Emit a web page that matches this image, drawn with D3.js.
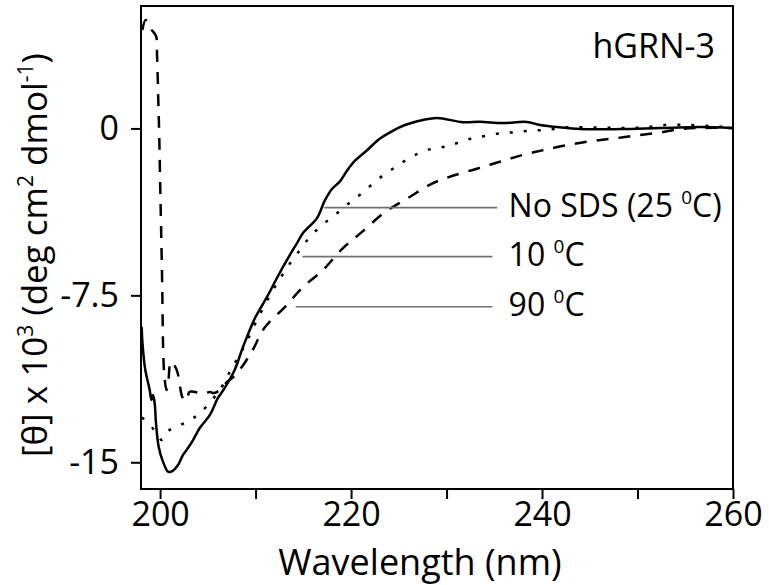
<!DOCTYPE html>
<html lang="en">
<head>
<meta charset="UTF-8">
<title>hGRN-3 CD spectra</title>
<script src="https://d3js.org/d3.v7.min.js"></script>
<style>
  body { margin: 0; background: #fff; }
  svg text { font-family: "Open Sans", sans-serif; fill: #000; }
  .frame { fill: none; stroke: #000; stroke-width: 2px; }
  .curve { fill: none; stroke: #000; stroke-width: 2.5px; }
  .leader { stroke: #707070; stroke-width: 1.6px; }
  .tick line { stroke: #000; stroke-width: 2px; }
</style>
</head>
<body>
<svg id="chart" width="769" height="585"></svg>
<script>
// No SDS (25 C), solid line
const wlNoSDS = [198.07, 198.17, 198.45, 198.91, 199.1, 199.26, 199.43, 199.57, 199.85, 200.3, 200.83, 201.17,
  201.88, 202.4, 202.92, 203.45, 204.15, 205.2, 206.06, 206.77, 207.81, 208.68, 209.94, 211.2, 212.24, 213.29,
  214.34, 214.97, 216.43, 217.27, 218.0, 218.84, 219.57, 220.41, 221.67, 223.03, 224.08, 225.44, 227.54, 229.0,
  231.72, 233.5, 235.9, 238.4, 239.8, 241.6, 243.98, 248.2, 252.4, 256.5, 259.9];
const thetaNoSDS = [-8.92, -9.73, -10.85, -11.75, -12.2, -11.98, -12.34, -13.24, -14.3, -14.97, -15.42, -15.42,
  -15.12, -14.67, -14.36, -14.0, -13.46, -12.88, -12.11, -11.66, -10.85, -9.82, -8.52, -7.57, -6.72, -5.91,
  -5.15, -4.7, -4.03, -3.22, -2.72, -2.38, -1.9, -1.45, -0.98, -0.45, -0.18, 0.12, 0.38, 0.47,
  0.28, 0.3, 0.24, 0.29, 0.15, 0.06, -0.03, -0.03, 0.02, 0.06, 0.02];

// 10 C, dotted line
const wl10 = [198.1, 199.1, 200.2, 200.88, 202.16, 203.29, 204.34, 205.44, 206.22, 207.53, 208.89, 210.25,
  211.83, 212.66, 213.61, 214.65, 215.7, 217.09, 218.5, 219.89, 221.28, 222.69, 224.08, 225.47, 226.88,
  228.32, 229.84, 231.23, 232.63, 234.03, 235.53, 236.93, 238.4, 239.79, 241.26, 242.75, 246.91, 249.92,
  251.31, 252.78, 255.68, 258.43, 259.9];
const theta10 = [-12.99, -13.4, -14.0, -13.59, -13.32, -13.07, -12.72, -12.2, -11.78, -10.76, -9.73, -8.52,
  -7.26, -6.68, -6.06, -5.46, -4.87, -4.3, -3.82, -3.32, -2.87, -2.32, -1.9, -1.5, -1.16,
  -0.93, -0.82, -0.64, -0.45, -0.34, -0.22, -0.18, -0.12, -0.08, -0.03, 0.05, 0.03, 0.03,
  0.08, 0.15, 0.15, 0.08, 0.06];

// 90 C, dashed line
const wl90 = [198.14, 198.49, 198.94, 199.57, 199.68, 199.81, 199.92, 200.02, 200.13, 200.23, 200.28, 200.34,
  200.44, 200.67, 200.83, 201.14, 201.74, 202.26, 202.5, 202.82, 203.06, 203.66, 204.36, 205.23, 205.65,
  206.38, 207.01, 207.9, 209.57, 210.92, 213.08, 214.86, 217.06, 219.05, 221.15, 223.55, 225.96, 228.37,
  230.57, 233.09, 235.49, 237.9, 240.21, 242.62, 245.13, 247.54, 249.84, 252.25, 254.45, 256.55, 259.9];
const theta90 = [4.42, 4.87, 4.51, 4.15, 3.3, 1.28, -0.52, -2.77, -5.01, -7.26, -9.06, -10.18,
  -11.08, -11.75, -11.53, -10.49, -10.85, -11.98, -12.2, -12.2, -11.84, -11.84, -11.93, -11.84, -11.89,
  -11.71, -11.39, -11.08, -10.05, -8.97, -8.02, -7.17, -6.36, -5.42, -4.65, -3.76, -3.13, -2.5,
  -2.14, -1.82, -1.51, -1.2, -0.97, -0.75, -0.57, -0.45, -0.32, -0.19, -0.03, 0.02, 0.02];

const xTicks = [200, 210, 220, 230, 240, 250, 260];
const yTicks = [0, -7.5, -15];

const legendText = ["No SDS (25 ", "10 ", "90 "];
const legendTail = ["C)", "C", "C"];
const legendTheta = [-3.56, -5.76, -8.01];
const legendFrom = [217.2, 214.9, 214.2];
const legendTo = [235.3, 234.8, 234.8];
const legendTextAt = 236.5;

const margin = {top: 6, right: 36, bottom: 96, left: 141},
      width = 769 - margin.left - margin.right,
      height = 585 - margin.top - margin.bottom;

const svg = d3.select("#chart");
const g = svg.append("g").attr("transform", `translate(${margin.left},${margin.top})`);

const x = d3.scaleLinear().domain([198, 260]).range([0, width]);
const y = d3.scaleLinear().domain([-16.2, 5.5]).range([height, 0]);

const series = [
  {wl: wlNoSDS, th: thetaNoSDS, dash: null},
  {wl: wl10, th: theta10, dash: "3,11"},
  {wl: wl90, th: theta90, dash: "12,10"}
];

const line = d3.line().x(d => x(d[0])).y(d => y(d[1])).curve(d3.curveCatmullRom.alpha(0.5));

series.forEach(s => {
  g.append("path")
    .datum(s.wl.map((w, i) => [w, s.th[i]]))
    .attr("class", "curve")
    .attr("stroke-dasharray", s.dash)
    .attr("d", line);
});

// axes
const xAxis = g.append("g")
  .attr("transform", `translate(0,${height})`)
  .call(d3.axisBottom(x).tickValues(xTicks).tickSize(10).tickPadding(3)
    .tickFormat(d => d % 20 === 0 ? d : ""));
xAxis.select(".domain").remove();
xAxis.selectAll("text").style("font-size", "34px");

const yAxis = g.append("g")
  .call(d3.axisLeft(y).tickValues(yTicks).tickSize(10).tickPadding(12).tickFormat(d => String(d)));
yAxis.select(".domain").remove();
yAxis.selectAll("text").style("font-size", "34px");

g.append("rect").attr("class", "frame")
  .attr("width", width).attr("height", height);

// axis titles
svg.append("text")
  .attr("x", 420).attr("y", 575)
  .attr("text-anchor", "middle")
  .style("font-size", "36px")
  .text("Wavelength (nm)");

const yl = svg.append("text")
  .attr("transform", "translate(47,255) rotate(-90)")
  .attr("text-anchor", "middle")
  .style("font-size", "35px");
yl.append("tspan").text("[θ] x 10");
yl.append("tspan").attr("baseline-shift", "super").style("font-size", "21px").text("3");
yl.append("tspan").text(" (deg cm");
yl.append("tspan").attr("baseline-shift", "super").style("font-size", "21px").text("2");
yl.append("tspan").text(" dmol");
yl.append("tspan").attr("baseline-shift", "super").style("font-size", "21px").text("-1");
yl.append("tspan").text(")");

// panel label
g.append("text")
  .attr("x", width - 18).attr("y", 52)
  .attr("text-anchor", "end")
  .style("font-size", "34px")
  .text("hGRN-3");

// leader lines and labels
legendText.forEach((t, i) => {
  g.append("line").attr("class", "leader")
    .attr("x1", x(legendFrom[i])).attr("x2", x(legendTo[i]))
    .attr("y1", y(legendTheta[i])).attr("y2", y(legendTheta[i]));
  const tx = g.append("text")
    .attr("x", x(legendTextAt)).attr("y", y(legendTheta[i]))
    .attr("dy", "0.3em")
    .style("font-size", "32px");
  tx.append("tspan").text(t);
  tx.append("tspan").attr("baseline-shift", "super").style("font-size", "19px").text("0");
  tx.append("tspan").text(legendTail[i]);
});
</script>
</body>
</html>
